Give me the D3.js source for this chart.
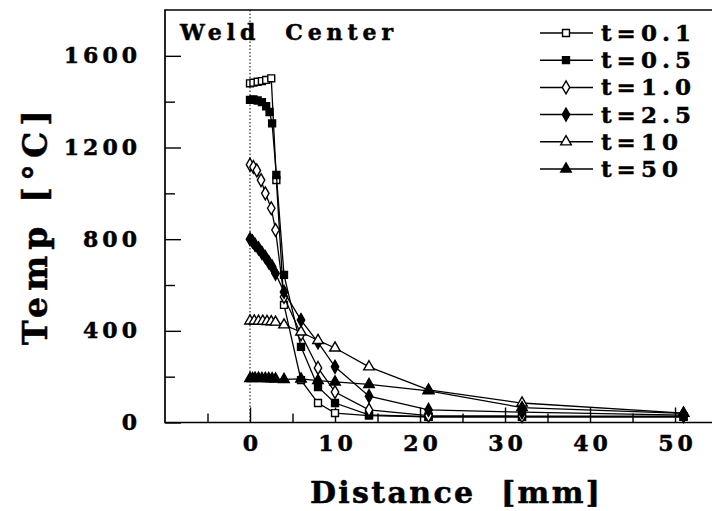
<!DOCTYPE html>
<html>
<head>
<meta charset="utf-8">
<script src="https://cdn.jsdelivr.net/npm/d3@7"></script>
<style>
  body { margin: 0; background: #fff; }
  text { font-family: "DejaVu Serif", serif; font-weight: bold; fill: #000; stroke: #000; stroke-width: 0.5px; }
</style>
</head>
<body>
<div class="chart"></div>
<script>
// series: distance [mm] and temperature [C]
const seriesNames = ["t=0.1", "t=0.5", "t=1.0", "t=2.5", "t=10", "t=50"]

const d01 = [0, 0.4, 0.9, 1.4, 1.9, 2.5, 3.1, 4, 6, 8, 10, 14, 21, 32, 51]
const v01 = [1480, 1483, 1487, 1490, 1495, 1502, 1058, 513, 185, 85, 41, 30, 25, 25, 25]

const d05 = [0, 0.4, 0.9, 1.4, 1.9, 2.3, 2.6, 3.1, 4, 6, 8, 10, 14, 21, 32, 51]
const v05 = [1408, 1410, 1405, 1398, 1380, 1355, 1305, 1080, 644, 330, 155, 85, 33, 25, 25, 25]

const d10 = [0, 0.4, 0.8, 1.3, 1.8, 2.5, 3.0, 4, 6, 8, 10, 14, 21, 32, 51]
const v10 = [1125, 1115, 1100, 1058, 1000, 935, 840, 548, 385, 238, 133, 55, 30, 28, 28]

const d25 = [0, 0.3, 0.6, 1.0, 1.4, 1.8, 2.2, 2.6, 3.0, 4, 6, 8, 10, 14, 21, 32, 51]
const v25 = [800, 790, 775, 760, 740, 722, 700, 680, 650, 570, 447, 350, 243, 115, 55, 45, 32]

const d100 = [0, 0.5, 1, 1.5, 2, 2.5, 3, 4, 6, 8, 10, 14, 21, 32, 51]
const v100 = [443, 443, 442, 442, 441, 440, 438, 426, 395, 358, 325, 243, 142, 85, 41]

const d500 = [0, 0.3, 0.6, 1, 1.4, 1.8, 2.2, 2.6, 3, 4, 6, 8, 10, 14, 21, 32, 51]
const v500 = [192, 192, 193, 193, 192, 192, 192, 191, 190, 188, 190, 183, 177, 166, 138, 65, 40]

const xTicks = [0, 10, 20, 30, 40, 50]
const xMinor = [-5, 5, 15, 25, 35, 45]
const yTicks = [0, 400, 800, 1200, 1600]
const yMinor = [200, 600, 1000, 1400]

const series = [
    {name: seriesNames[0], d: d01, v: v01, shape: d3.symbolSquare, fill: "#fff"},
    {name: seriesNames[1], d: d05, v: v05, shape: d3.symbolSquare, fill: "#000"},
    {name: seriesNames[2], d: d10, v: v10, shape: d3.symbolDiamond, fill: "#fff"},
    {name: seriesNames[3], d: d25, v: v25, shape: d3.symbolDiamond, fill: "#000"},
    {name: seriesNames[4], d: d100, v: v100, shape: d3.symbolTriangle, fill: "#fff"},
    {name: seriesNames[5], d: d500, v: v500, shape: d3.symbolTriangle, fill: "#000"}
]

const svgWidth = 712
const svgHeight = 511
const plotLeft = 165, plotRight = 712, plotTop = 10, plotBottom = 422.5

const svg = d3.select(".chart").append("svg")
                .attr("width", svgWidth)
                .attr("height", svgHeight)

const xScale = d3.scaleLinear()
                .domain([-10, 54.35])
                .range([plotLeft, plotRight])

const yScale = d3.scaleLinear()
                .domain([0, 1800])
                .range([plotBottom, plotTop])

// frame
svg.append("path")
    .attr("d", `M${plotRight},${plotTop}H${plotLeft}V${plotBottom}H${plotRight}`)
    .attr("fill", "none")
    .attr("stroke", "#000")
    .attr("stroke-width", 1.7)

// dotted line at x = 0
svg.append("line")
    .attr("x1", xScale(0)).attr("x2", xScale(0))
    .attr("y1", plotTop).attr("y2", plotBottom)
    .attr("stroke", "#000")
    .attr("stroke-width", 1)
    .attr("stroke-dasharray", "1.5,2")

const yAxis = d3.axisLeft(yScale).tickValues(yTicks).tickSize(-16).tickPadding(24).tickFormat(d3.format("d"))
const yAxisMinor = d3.axisLeft(yScale).tickValues(yMinor).tickSize(-10).tickFormat("")
const xAxis = d3.axisBottom(xScale).tickValues(xTicks).tickSize(-15).tickPadding(13).tickFormat(d3.format("d"))
const xAxisMinor = d3.axisBottom(xScale).tickValues(xMinor).tickSize(-9).tickFormat("")

svg.append("g").attr("transform", `translate(${plotLeft},0)`).call(yAxis)
svg.append("g").attr("transform", `translate(${plotLeft},0)`).call(yAxisMinor)
svg.append("g").attr("class", "x").attr("transform", `translate(0,${plotBottom})`).call(xAxis)
svg.append("g").attr("transform", `translate(0,${plotBottom})`).call(xAxisMinor)

svg.selectAll(".domain").remove()
svg.selectAll(".tick line").attr("stroke", "#000").attr("stroke-width", 1.4)
svg.selectAll(".tick text")
    .attr("font-family", "DejaVu Serif")
    .attr("font-weight", "bold")
    .attr("font-size", "22px")
    .attr("letter-spacing", "4px")
    .attr("fill", "#000")
svg.selectAll(".x .tick text").attr("dx", 2)

const line = d3.line()
                .x(p => xScale(p[0]))
                .y(p => yScale(p[1]))

series.forEach(s => {
    const pts = s.d.map((d, i) => [d, s.v[i]])
    svg.append("path")
        .attr("d", line(pts))
        .attr("fill", "none")
        .attr("stroke", "#000")
        .attr("stroke-width", 1.3)
    svg.append("g").selectAll("path")
        .data(pts)
        .join("path")
        .attr("transform", p => `translate(${xScale(p[0])},${yScale(p[1])})`)
        .attr("d", d3.symbol().type(s.shape).size(48))
        .attr("fill", s.fill)
        .attr("stroke", "#000")
        .attr("stroke-width", 1.4)
})

// label inside plot
svg.append("text")
    .attr("x", 180)
    .attr("y", 40)
    .attr("font-size", "22px")
    .attr("textLength", 213)
    .attr("lengthAdjust", "spacing")
    .attr("xml:space", "preserve")
    .text("Weld  Center")

// legend
series.forEach((s, i) => {
    const ly = 33 + i * 27.2
    const g = svg.append("g").attr("transform", `translate(540,${ly})`)
    g.append("line")
        .attr("x1", 0).attr("x2", 53)
        .attr("stroke", "#000").attr("stroke-width", 1.5)
    g.append("path")
        .attr("transform", "translate(26,0)")
        .attr("d", d3.symbol().type(s.shape).size(48))
        .attr("fill", s.fill)
        .attr("stroke", "#000")
        .attr("stroke-width", 1.4)
    g.append("text")
        .attr("x", 61)
        .attr("y", 8)
        .attr("font-size", "23px")
        .attr("letter-spacing", "5px")
        .text(s.name)
})

// axis titles
svg.append("text")
    .attr("x", 310)
    .attr("y", 503)
    .attr("font-size", "30px")
    .attr("textLength", 290)
    .attr("lengthAdjust", "spacing")
    .attr("xml:space", "preserve")
    .text("Distance  [mm]")

svg.append("text")
    .attr("transform", "translate(47,345) rotate(-90)")
    .attr("font-size", "33px")
    .attr("textLength", 235)
    .attr("lengthAdjust", "spacing")
    .text("Temp [°C]")
</script>
</body>
</html>
